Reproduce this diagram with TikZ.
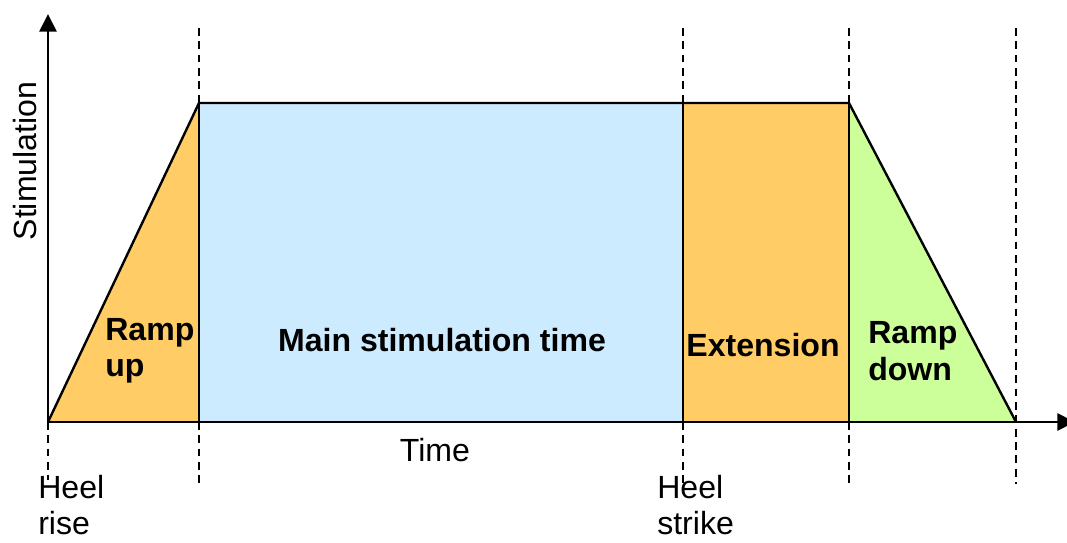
\documentclass[tikz,border=0pt]{standalone}
\usepackage{fontspec}
\setmainfont{Liberation Sans}
\usetikzlibrary{arrows.meta}
\definecolor{rampcol}{HTML}{FFCC66}
\definecolor{maincol}{HTML}{CCEBFF}
\definecolor{downcol}{HTML}{CCFF99}

\begin{document}
\begin{tikzpicture}[x=0.025cm,y=0.025cm,>={Triangle[length=12.5pt,width=12pt]},
    guide/.style={dash pattern=on 5.5pt off 4pt,line width=1.1pt},
    txt/.style={font=\fontsize{22.8}{26}\selectfont,inner sep=0pt,align=left},
    phase/.style={txt,font=\fontsize{22.8}{26}\selectfont\bfseries}]
        \useasboundingbox (0,0) rectangle (1067,542);
        % corners of the profile
        \coordinate (O) at (48,120);
        \coordinate (up) at (199,439);
        \coordinate (upb) at (199,120);
        \coordinate (hs) at (683,439);
        \coordinate (hsb) at (683,120);
        \coordinate (ext) at (849,439);
        \coordinate (extb) at (849,120);
        \coordinate (end) at (1016,120);
        % phases
        \fill[rampcol] (O) -- (up) -- (upb) -- cycle;
        \fill[maincol] (upb) rectangle (hs);
        \fill[rampcol] (hsb) rectangle (ext);
        \fill[downcol] (extb) -- (ext) -- (end) -- cycle;
        % axes
        \coordinate (ytip) at (48,528);
        \coordinate (xtip) at (1075,120);
        \draw[->,line width=2pt] (O) -- (ytip);
        \draw[->,line width=2pt] (O) -- (xtip);
        % outline
        \draw[line width=1.7pt,line join=round] (O) -- (up) -- (ext) -- (end);
        \foreach \c in {199,683,849} \draw[line width=1.7pt] (\c,120) -- (\c,439);
        % dashed markers
        \foreach \c in {199,683,849}
          {\draw[guide] (\c,514) -- (\c,439);
           \draw[guide] (\c,120) -- (\c,58);}
        \draw[guide] (1016,514) -- (1016,58);
        \draw[guide] (O) -- (48,62);
        % labels
        \node[txt,rotate=90] (stim) at (25,381) {Stimulation};
        \node[txt] (time) at (435,92) {Time};
        \node[txt,anchor=west] (rise) at (38,37) {Heel\\rise};
        \node[txt,anchor=west] (strike) at (657,37) {Heel\\strike};
        \node[phase,anchor=west] (rampup) at (105,191) {Ramp\\up};
        \node[phase] (main) at (442,202) {Main stimulation time};
        \node[phase] (extn) at (763,197) {Extension};
        \node[phase,anchor=west] (rampdn) at (868,191) {Ramp\\down};
\end{tikzpicture}
\end{document}
